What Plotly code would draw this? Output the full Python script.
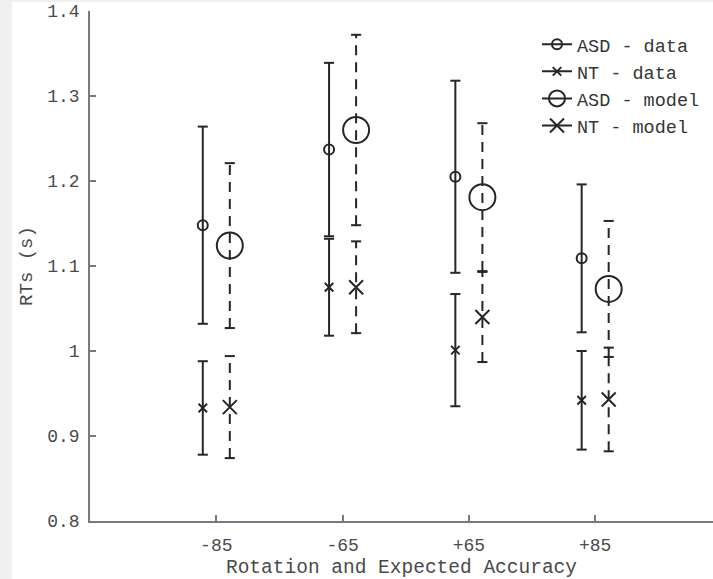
import plotly.graph_objects as go

# Conditions (rotation / expected accuracy)
conditions = ["-85", "-65", "+65", "+85"]
positions = [1, 2, 3, 4]

# Mean response times (s) and error half-widths
asd_data_mean = [1.148, 1.237, 1.205, 1.109]
asd_data_err = [0.116, 0.102, 0.113, 0.087]
nt_data_mean = [0.933, 1.075, 1.001, 0.942]
nt_data_err = [0.055, 0.057, 0.066, 0.058]
asd_model_mean = [1.124, 1.260, 1.181, 1.073]
asd_model_err = [0.097, 0.112, 0.087, 0.080]
nt_model_mean = [0.934, 1.075, 1.040, 0.943]
nt_model_err = [0.060, 0.054, 0.053, 0.061]

y_ticks = [0.8, 0.9, 1.0, 1.1, 1.2, 1.3, 1.4]
y_tick_text = ["0.8", "0.9", "1", "1.1", "1.2", "1.3", "1.4"]

INK = "#262626"
AXIS = "#7a7a7a"
TEXT = "#4a4a4a"
FONT = "Liberation Mono, Courier New, monospace"
OFFSET = 0.107   # horizontal shift of data (left) and model (right) bars
CAP = 0.04       # half width of the error-bar caps in axis units


def bar_segments(xs, means, errs):
    vx, vy, cx, cy = [], [], [], []
    for x, m, e in zip(xs, means, errs):
        vx += [x, x, None]
        vy += [m - e, m + e, None]
        for yv in (m - e, m + e):
            cx += [x - CAP, x + CAP, None]
            cy += [yv, yv, None]
    return vx, vy, cx, cy


series = [
    # name, means, errs, offset, dash, symbol, size
    ("ASD - data", asd_data_mean, asd_data_err, -OFFSET, "solid", "circle-open", 10),
    ("NT - data", nt_data_mean, nt_data_err, -OFFSET, "solid", "x-thin-open", 8.5),
    ("ASD - model", asd_model_mean, asd_model_err, OFFSET, "10px,7px", "circle-open", 26),
    ("NT - model", nt_model_mean, nt_model_err, OFFSET, "10px,7px", "x-thin-open", 14),
]

fig = go.Figure()

for name, means, errs, off, dash, symbol, size in series:
    xs = [p + off for p in positions]
    vx, vy, cx, cy = bar_segments(xs, means, errs)
    fig.add_trace(go.Scatter(x=vx, y=vy, mode="lines", showlegend=False,
                             line=dict(color=INK, width=2, dash=dash),
                             hoverinfo="skip"))
    fig.add_trace(go.Scatter(x=cx, y=cy, mode="lines", showlegend=False,
                             line=dict(color=INK, width=2), hoverinfo="skip"))
    fig.add_trace(go.Scatter(x=xs, y=means, mode="markers", showlegend=False,
                             name=name,
                             marker=dict(symbol=symbol, size=size, color=INK,
                                         line=dict(color=INK, width=2))))

# legend entries: solid line through the marker
for name, means, errs, off, dash, symbol, size in series:
    fig.add_trace(go.Scatter(x=[None], y=[None], mode="lines+markers", name=name,
                             line=dict(color=INK, width=2),
                             marker=dict(symbol=symbol, size=size, color=INK,
                                         line=dict(color=INK, width=2))))

fig.update_layout(
    width=713, height=579,
    margin=dict(l=90, r=0, t=11, b=58),
    paper_bgcolor="#f0f0f0",
    plot_bgcolor="white",
    font=dict(family=FONT, color=TEXT, size=18),
    legend=dict(x=0.7175, y=0.971, xanchor="left", yanchor="top",
                bgcolor="rgba(0,0,0,0)", font=dict(size=18.5, color="#363636"),
                itemsizing="trace", tracegroupgap=0),
    shapes=[dict(type="rect", xref="paper", yref="paper",
                 x0=-0.1252, x1=1.2, y0=-0.3, y1=1.0176,
                 fillcolor="white", line=dict(width=0), layer="below")],
)

fig.update_xaxes(
    range=[0, 4.933], tickvals=positions, ticktext=conditions,
    showline=True, linecolor=AXIS, linewidth=1.5, mirror=False,
    ticks="inside", ticklen=6, tickcolor=AXIS, tickwidth=1.5,
    showgrid=False, zeroline=False, tickfont=dict(size=18),
    ticklabelstandoff=7,
    title=dict(text="Rotation and Expected Accuracy", font=dict(size=19.5), standoff=10),
)
fig.update_yaxes(
    range=[0.8, 1.4], tickvals=y_ticks, ticktext=y_tick_text,
    showline=True, linecolor=AXIS, linewidth=1.5, mirror=False,
    ticks="inside", ticklen=6, tickcolor=AXIS, tickwidth=1.5,
    showgrid=False, zeroline=False, tickfont=dict(size=18),
    ticklabelstandoff=5,
    title=dict(text="RTs (s)", font=dict(size=19), standoff=10),
)

fig.write_html("out.html")
